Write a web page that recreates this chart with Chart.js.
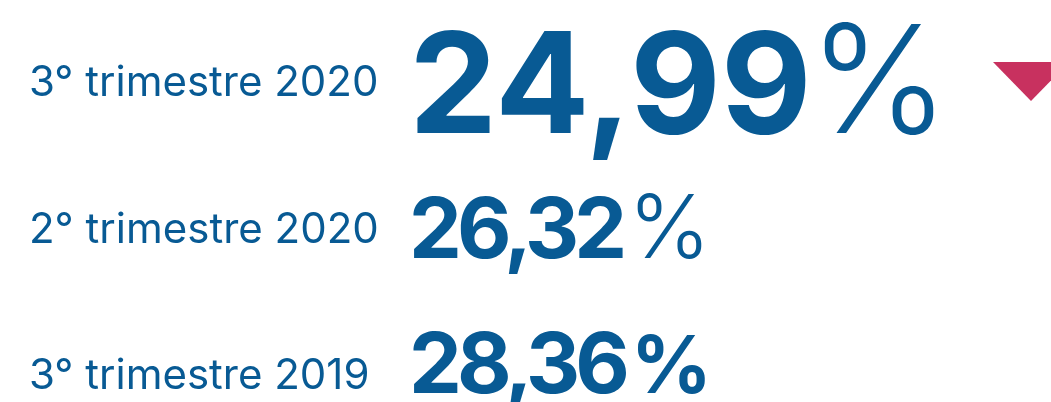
<!DOCTYPE html>
<html>
<head>
<meta charset="utf-8">
<script src="https://cdn.jsdelivr.net/npm/chart.js@4.4.1/dist/chart.umd.min.js"></script>
<style>
  html, body { margin: 0; padding: 0; background: #fff; overflow: hidden; }
  #wrap { width: 1051px; height: 402px; }
</style>
</head>
<body>
<div id="wrap"><canvas id="kpiChart"></canvas></div>
<script>
// Data
const periods = ['3° trimestre 2020', '2° trimestre 2020', '3° trimestre 2019'];
const rates = [24.99, 26.32, 28.36];

const BLUE = '#085a94';
const PINK = '#c8315f';
const FONT = 'Inter';

// per row text style: number size, tracking, % weight / size, baseline shift
const rowStyle = [
  { size: 140, track: 0, pctWeight: 300, pctSize: 150, gap: -3, dy: 50 },
  { size: 84, track: -5, pctWeight: 300, pctSize: 88, gap: 6, dy: 28 },
  { size: 84, track: -5, pctWeight: 700, pctSize: 80, gap: 6, dy: 16 }
];

function fmt(v) {
  return v.toFixed(2).replace('.', ',');
}

// Draws the big values next to each row + the trend arrow for the latest one
const valuePlugin = {
  id: 'valueText',
  afterDatasetsDraw(chart) {
    const ctx = chart.ctx;
    const meta = chart.getDatasetMeta(0);
    const left = chart.chartArea.left - 3;
    ctx.save();
    ctx.fillStyle = BLUE;
    ctx.textBaseline = 'alphabetic';
    ctx.textAlign = 'left';
    meta.data.forEach((pt, i) => {
      const st = rowStyle[i];
      const y = pt.y + st.dy;
      ctx.font = '700 ' + st.size + 'px ' + FONT;
      ctx.letterSpacing = st.track + 'px';
      const txt = fmt(rates[i]);
      ctx.fillText(txt, left, y);
      const w = ctx.measureText(txt).width;
      ctx.letterSpacing = '0px';
      ctx.font = st.pctWeight + ' ' + st.pctSize + 'px ' + FONT;
      ctx.fillText('%', left + w + st.gap, y);
    });

    // trend: latest vs previous quarter
    if (rates[0] < rates[1]) {
      const ty = meta.data[0].y - 21;
      const tx = chart.width - 58;
      ctx.fillStyle = PINK;
      ctx.beginPath();
      ctx.moveTo(tx, ty);
      ctx.lineTo(tx + 76, ty);
      ctx.lineTo(tx + 38, ty + 39);
      ctx.closePath();
      ctx.fill();
    }
    ctx.restore();
  }
};

new Chart(document.getElementById('kpiChart').getContext('2d'), {
  type: 'line',
  data: {
    labels: periods,
    datasets: [{
      data: rates,
      showLine: false,
      pointRadius: 0,
      pointHoverRadius: 0
    }]
  },
  options: {
    indexAxis: 'y',
    responsive: true,
    maintainAspectRatio: false,
    animation: false,
    events: [],
    layout: {
      padding: { left: 29, top: 83, bottom: 24, right: 0 }
    },
    plugins: {
      legend: { display: false },
      tooltip: { enabled: false }
    },
    scales: {
      x: { display: false, min: 0, max: 40 },
      y: {
        type: 'category',
        position: 'left',
        offset: false,
        grid: { display: false },
        border: { display: false },
        ticks: {
          autoSkip: false,
          crossAlign: 'far',
          padding: 0,
          color: BLUE,
          font: { family: FONT, size: 42, weight: 400 }
        },
        afterFit(scale) {
          scale.width = 383;
        }
      }
    }
  },
  plugins: [valuePlugin]
});
</script>
</body>
</html>
